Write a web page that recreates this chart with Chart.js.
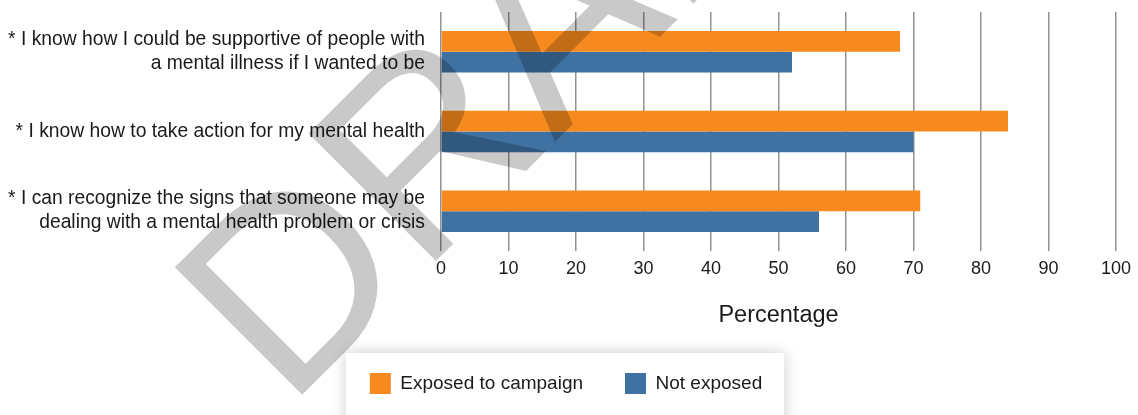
<!DOCTYPE html>
<html lang="en">
<head>
<meta charset="UTF-8">
<title>Campaign exposure</title>
<script src="https://cdn.jsdelivr.net/npm/chart.js"></script>
<style>
  html, body { margin: 0; padding: 0; background: #fff; }
  #wrap { width: 1138px; height: 415px; }
</style>
</head>
<body>
<div id="wrap"><canvas id="chart"></canvas></div>
<script>
  // statements (multi-line labels)
  const statements = [
    ['* I know how I could be supportive of people with', 'a mental illness if I wanted to be'],
    ['* I know how to take action for my mental health'],
    ['* I can recognize the signs that someone may be', 'dealing with a mental health problem or crisis']
  ];
  const exposed = [68, 84, 71];
  const notExposed = [52, 70, 56];
  const xTicks = [0, 10, 20, 30, 40, 50, 60, 70, 80, 90, 100];

  const FONT = "'Liberation Sans', Arial, sans-serif";
  const TEXT = '#1a1a1a';

  // white box with soft shadow behind the legend; legend nudged right a bit
  const legendBox = {
    id: 'legendBox',
    afterLayout(chart) {
      chart.legend.left += 8;
      chart.legend.right += 8;
    },
    beforeDraw(chart) {
      const { ctx } = chart;
      ctx.save();
      ctx.fillStyle = '#fff';
      ctx.fillRect(0, 0, chart.width, chart.height);
      const boxes = chart.legend.legendHitBoxes;
      if (boxes && boxes.length) {
        const first = boxes[0], last = boxes[boxes.length - 1];
        const x0 = first.left - 24, x1 = last.left + last.width + 22;
        ctx.shadowColor = 'rgba(0,0,0,0.22)';
        ctx.shadowBlur = 14;
        ctx.fillRect(x0, 353, x1 - x0, chart.height);
      }
      ctx.restore();
    }
  };

  // DRAFT watermark
  const draftMark = {
    id: 'draftMark',
    afterDatasetsDraw(chart) {
      const { ctx } = chart;
      ctx.save();
      ctx.translate(287, 410);
      ctx.rotate(-Math.PI / 4);
      ctx.font = "262px 'Liberation Sans', Arial, sans-serif";
      ctx.fillStyle = 'rgba(0,0,0,0.21)';
      ctx.textBaseline = 'alphabetic';
      ctx.fillText('DRAFT', 0, 0);
      ctx.restore();
    }
  };

  new Chart(document.getElementById('chart'), {
    type: 'bar',
    data: {
      labels: statements,
      datasets: [
        { label: 'Exposed to campaign', data: exposed, backgroundColor: '#f68a1f' },
        { label: 'Not exposed', data: notExposed, backgroundColor: '#3f72a2' }
      ]
    },
    options: {
      indexAxis: 'y',
      responsive: true,
      maintainAspectRatio: false,
      animation: false,
      categoryPercentage: 0.52,
      barPercentage: 1,
      layout: { padding: { left: 0, right: 22, top: 12, bottom: 11 } },
      plugins: {
        tooltip: { enabled: false },
        legend: {
          position: 'bottom',
          labels: {
            boxWidth: 21,
            boxHeight: 21,
            padding: 42,
            color: TEXT,
            font: { family: FONT, size: 19 }
          }
        }
      },
      scales: {
        x: {
          min: 0,
          max: 100,
          afterBuildTicks: s => { s.ticks = xTicks.map(v => ({ value: v })); },
          afterFit: s => { s.height = 80; },
          grid: { color: 'rgba(110,110,110,0.75)', lineWidth: 1.5, drawTicks: false },
          border: { display: false },
          ticks: { padding: 7, color: TEXT, font: { family: FONT, size: 18 } },
          title: {
            display: true,
            text: 'Percentage',
            color: TEXT,
            font: { family: FONT, size: 23.5 },
            padding: { top: 0, bottom: 1 }
          }
        },
        y: {
          afterFit: s => { s.width = 441; s.paddingTop = 0; s.paddingBottom = 0; },
          grid: { display: false, drawTicks: false },
          border: { display: false },
          ticks: {
            padding: 16,
            color: TEXT,
            font: { family: FONT, size: 19.3, lineHeight: 24 / 19.3 }
          }
        }
      }
    },
    plugins: [legendBox, draftMark]
  });
</script>
</body>
</html>
